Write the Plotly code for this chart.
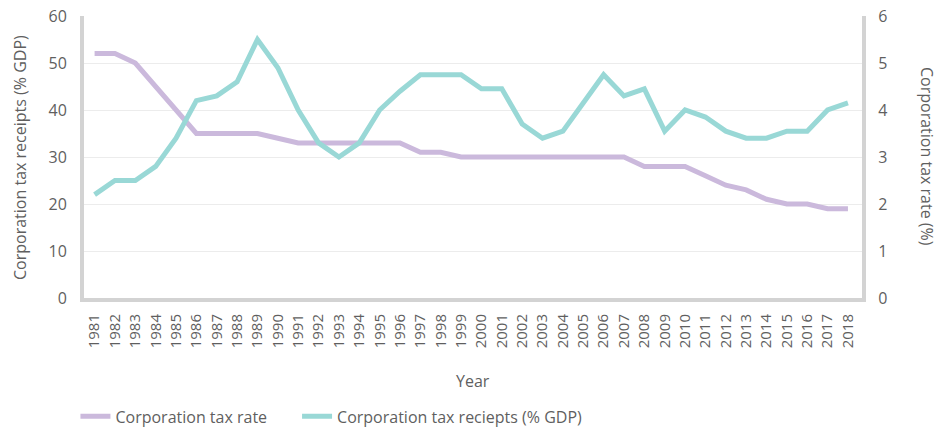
import plotly.graph_objects as go

years = [str(y) for y in range(1981, 2019)]
tax_rate = [52, 52, 50, 45, 40, 35, 35, 35, 35, 34, 33, 33, 33, 33, 33, 33, 31, 31, 30,
            30, 30, 30, 30, 30, 30, 30, 30, 28, 28, 28, 26, 24, 23, 21, 20, 20, 19, 19]
tax_receipts = [2.2, 2.5, 2.5, 2.8, 3.4, 4.2, 4.3, 4.6, 5.5, 4.9, 4.0, 3.3, 3.0, 3.3, 4.0, 4.4,
                4.75, 4.75, 4.75, 4.45, 4.45, 3.7, 3.4, 3.55, 4.15, 4.75, 4.3, 4.45, 3.55, 4.0,
                3.85, 3.55, 3.4, 3.4, 3.55, 3.55, 4.0, 4.15]

FONT = "Open Sans"
TXT = "#5f5f5f"
AXLINE = "#d3d3d3"
GRID = "#ececec"
PAD = "\u00a0" * 6

fig = go.Figure()
fig.add_trace(go.Scatter(x=years, y=tax_rate, name="Corporation tax rate" + PAD, mode="lines",
                         line=dict(color="#cbb9dc", width=5), yaxis="y"))
fig.add_trace(go.Scatter(x=years, y=tax_receipts, name="Corporation tax reciepts (% GDP)",
                         mode="lines", line=dict(color="#99d8d6", width=5), yaxis="y2"))

fig.update_layout(
    width=937, height=428,
    margin=dict(l=84, r=75, t=16, b=130, autoexpand=False),
    paper_bgcolor="white", plot_bgcolor="white",
    font=dict(family=FONT, color=TXT, size=16),
    showlegend=True,
    legend=dict(orientation="h", x=-0.011, xanchor="left", y=-0.42, yanchor="middle",
                font=dict(size=16, color=TXT), itemwidth=30, traceorder="normal"),
    xaxis=dict(type="category", range=[-0.52, 37.69], tickangle=-90,
               showline=True, linewidth=4, linecolor=AXLINE, showgrid=False,
               ticks="", tickfont=dict(size=15, color=TXT), automargin=False,
               ticklabelstandoff=6),
    yaxis=dict(range=[0, 60], dtick=10, showline=True, linewidth=4, linecolor=AXLINE,
               gridcolor=GRID, gridwidth=1, zeroline=False, ticks="", automargin=False,
               tickfont=dict(size=16, color=TXT), ticklabelstandoff=10),
    yaxis2=dict(range=[0, 6], dtick=1, overlaying="y", side="right", showline=True,
                linewidth=4, linecolor=AXLINE, showgrid=False, zeroline=False, ticks="",
                automargin=False, tickfont=dict(size=16, color=TXT), ticklabelstandoff=9),
    annotations=[
        dict(text="Corporation tax receipts (% GDP)", xref="paper", yref="paper",
             x=-0.0823, y=0.5, xanchor="center", yanchor="middle", textangle=-90,
             showarrow=False, font=dict(size=16, color=TXT)),
        dict(text="Corporation tax rate (%)", xref="paper", yref="paper",
             x=1.0835, y=0.5, xanchor="center", yanchor="middle", textangle=90,
             showarrow=False, font=dict(size=16, color=TXT)),
        dict(text="Year", xref="paper", yref="paper", x=0.5, y=-0.294,
             xanchor="center", yanchor="middle", showarrow=False,
             font=dict(size=16, color=TXT)),
    ],
)

fig.write_html("out.html", config={"displayModeBar": False},
               post_script="document.body.style.margin='0';document.body.style.overflow='hidden';")
